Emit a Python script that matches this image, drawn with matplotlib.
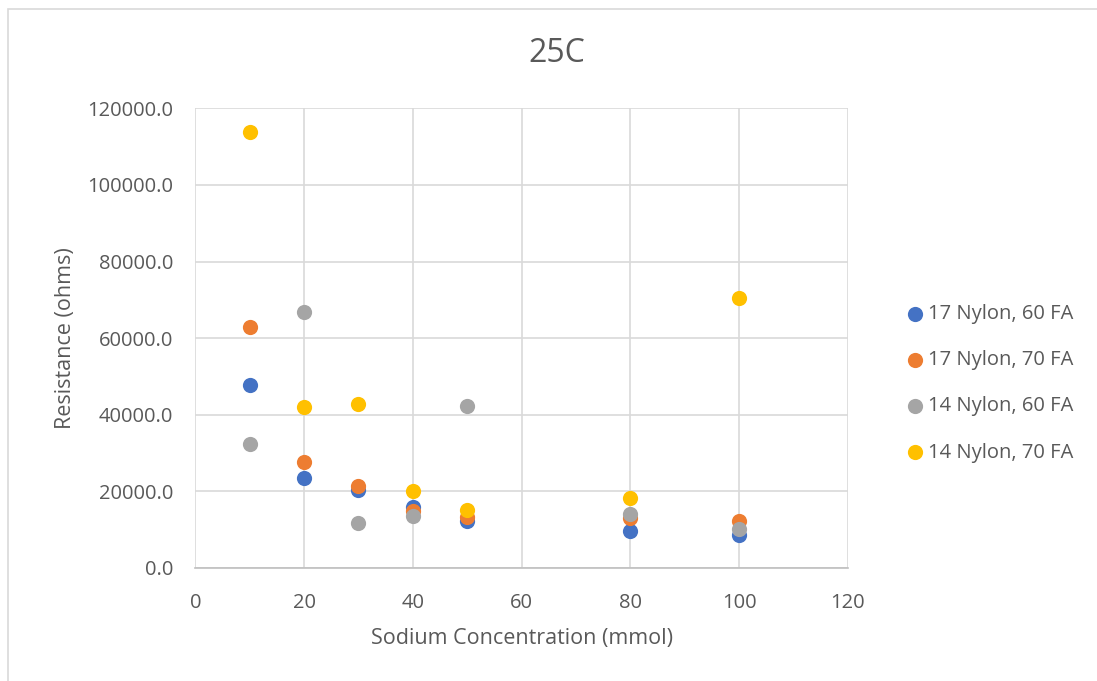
import matplotlib.pyplot as plt
from matplotlib.patches import Rectangle

# Sodium concentration (mmol)
conc = [10, 20, 30, 40, 50, 80, 100]

# Resistance (ohms) for each sample
nylon17_fa60 = [47700, 23500, 20300, 16000, 12300, 9650, 8600]
nylon17_fa70 = [62900, 27700, 21500, 14900, 13200, 13000, 12300]
nylon14_fa60 = [32300, 66800, 11800, 13600, 42200, 14000, 10200]
nylon14_fa70 = [113700, 42000, 42800, 20100, 15100, 18200, 70400]

labels = ["17 Nylon, 60 FA", "17 Nylon, 70 FA", "14 Nylon, 60 FA", "14 Nylon, 70 FA"]
colors = ["#4472C4", "#ED7D31", "#A5A5A5", "#FFC000"]
series = [nylon17_fa60, nylon17_fa70, nylon14_fa60, nylon14_fa70]

plt.rcParams['font.family'] = ['Open Sans', 'DejaVu Sans']
text_col = "#595959"

fig = plt.figure(figsize=(10.97, 6.81), dpi=100)
fig.patches.append(Rectangle((0.007, -0.01), 1.0, 0.997, transform=fig.transFigure,
                             fill=False, edgecolor="#D9D9D9", linewidth=1.2))
ax = fig.add_axes([0.178, 0.166, 0.595, 0.675])

for vals, lab, col in zip(series, labels, colors):
    ax.scatter(conc, vals, s=120, color=col, label=lab, zorder=3, linewidths=0)

ax.set_xlim(0, 120)
ax.set_ylim(0, 120000)
ax.set_xticks(range(0, 121, 20))
ax.set_yticks(range(0, 120001, 20000))
ax.set_yticklabels(["%.1f" % v for v in range(0, 120001, 20000)])
ax.grid(True, color="#D9D9D9", linewidth=1.2, zorder=0)
ax.set_axisbelow(True)
for s in ["top", "right", "left"]:
    ax.spines[s].set_visible(False)
ax.spines["bottom"].set_color("#BFBFBF")
ax.spines["bottom"].set_linewidth(1.2)
ax.tick_params(length=0, labelsize=14.5, colors=text_col)
ax.tick_params(axis="x", pad=18)
ax.tick_params(axis="y", pad=16)

# title is centred on the whole chart area, not on the plot
fig.text(0.508, 0.922, "25C", fontsize=23, color=text_col, ha="center", va="center")
ax.set_xlabel("Sodium Concentration (mmol)", fontsize=15.5, color=text_col, labelpad=10.5)
ax.set_ylabel("Resistance (ohms)", fontsize=15.5, color=text_col, labelpad=8)

leg = ax.legend(loc="center left", bbox_to_anchor=(0.808, 0.437), bbox_transform=fig.transFigure,
                frameon=False, fontsize=14.5, labelspacing=1.3, handletextpad=-0.35,
                borderaxespad=0)
for t in leg.get_texts():
    t.set_color(text_col)

plt.savefig("out.png", dpi=100)
